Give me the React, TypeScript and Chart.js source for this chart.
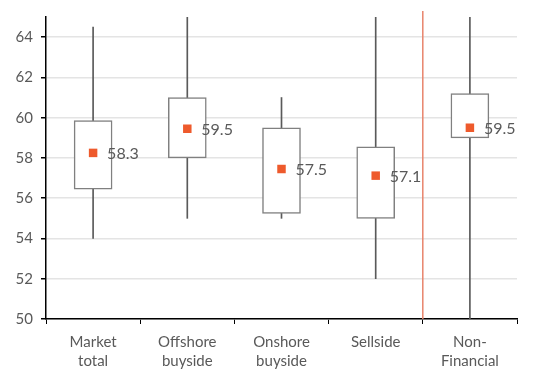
import React, { useEffect, useRef } from "react";
import { Chart, registerables } from "chart.js";

Chart.register(...registerables);

const categories: (string | string[])[] = [
  ["Market", "total"],
  ["Offshore", "buyside"],
  ["Onshore", "buyside"],
  "Sellside",
  ["Non-", "Financial"],
];
const whiskerLow = [54, 55, 55, 52, 50];
const whiskerHigh = [64.5, 65, 61, 65, 65];
const boxLow = [56.45, 58, 55.25, 55, 59];
const boxHigh = [59.85, 61, 59.5, 58.55, 61.2];
const means = [58.25, 59.45, 57.45, 57.12, 59.5];
const meanLabels = ["58.3", "59.5", "57.5", "57.1", "59.5"];
const yTicksMin = 50;
const yTicksMax = 65;
const yStep = 2;

const FONT = "Lato, 'Open Sans', sans-serif";
const TEXT = "#595959";
const ORANGE = "#EE5A2C";

export default function App() {
  const ref = useRef<HTMLCanvasElement | null>(null);
  useEffect(() => {
    if (!ref.current) return;
    const labelPlugin = {
      id: "meanLabels",
      afterDatasetsDraw(chart: any) {
        const ctx = chart.ctx;
        const meta = chart.getDatasetMeta(2);
        ctx.save();
        ctx.font = `16px ${FONT}`;
        ctx.fillStyle = TEXT;
        ctx.textAlign = "left";
        ctx.textBaseline = "middle";
        meta.data.forEach((pt: any, i: number) => {
          ctx.fillText(meanLabels[i], pt.x + 14, pt.y + 1);
        });
        ctx.restore();
      },
    };
    const dividerPlugin = {
      id: "divider",
      afterDatasetsDraw(chart: any) {
        const ctx = chart.ctx;
        const xs = chart.scales.x;
        const x = (xs.getPixelForValue(3) + xs.getPixelForValue(4)) / 2;
        ctx.save();
        ctx.strokeStyle = "#E8846C";
        ctx.lineWidth = 1.5;
        ctx.beginPath();
        ctx.moveTo(x, chart.chartArea.top - 6);
        ctx.lineTo(x, chart.chartArea.bottom);
        ctx.stroke();
        ctx.restore();
      },
    };
    const chart = new Chart(ref.current, {
      type: "bar",
      data: {
        labels: categories as any,
        datasets: [
          {
            type: "bar",
            data: whiskerLow.map((v, i) => [v, whiskerHigh[i]]) as any,
            backgroundColor: "#5a5a5a",
            barThickness: 1,
            grouped: false,
            order: 3,
          } as any,
          {
            type: "bar",
            data: boxLow.map((v, i) => [v, boxHigh[i]]) as any,
            backgroundColor: "#ffffff",
            borderColor: "#808080",
            borderWidth: 1.5,
            borderSkipped: false,
            barThickness: 38,
            grouped: false,
            order: 2,
          } as any,
          {
            type: "line",
            data: means,
            showLine: false,
            pointStyle: "rect",
            pointRadius: 6,
            pointBackgroundColor: ORANGE,
            pointBorderColor: ORANGE,
            pointBorderWidth: 0,
            order: 1,
          } as any,
        ],
      },
      options: {
        animation: false,
        responsive: false,
        maintainAspectRatio: false,
        layout: { padding: { left: 0, top: 13, right: 30, bottom: 0 } },
        plugins: { legend: { display: false }, tooltip: { enabled: false } },
        scales: {
          x: {
            offset: true,
            grid: {
              offset: true,
              drawOnChartArea: false,
              color: "#000",
              tickLength: 5,
              lineWidth: 1,
            },
            border: { color: "#000", width: 1.5 },
            ticks: {
              color: TEXT,
              font: { family: FONT, size: 15, lineHeight: 1.27 },
              padding: 9,
              maxRotation: 0,
              autoSkip: false,
            },
            afterFit(scale: any) {
              scale.height = 58;
            },
          },
          y: {
            min: yTicksMin,
            max: yTicksMax,
            grid: { color: "#e4e4e4", tickColor: "#000", tickLength: 5, lineWidth: 1.5 },
            border: { color: "#000", width: 1.5 },
            ticks: {
              stepSize: yStep,
              includeBounds: false,
              color: TEXT,
              font: { family: FONT, size: 15 },
              padding: 8,
            },
            afterFit(scale: any) {
              scale.width = 46;
            },
          },
        },
      },
      plugins: [labelPlugin, dividerPlugin],
    });
    return () => chart.destroy();
  }, []);
  return (
    <div style={{ position: "absolute", left: 0, top: 0, width: 547, height: 377, background: "#fff" }}>
      <canvas ref={ref} width={547} height={377} style={{ width: 547, height: 377 }} />
    </div>
  );
}
